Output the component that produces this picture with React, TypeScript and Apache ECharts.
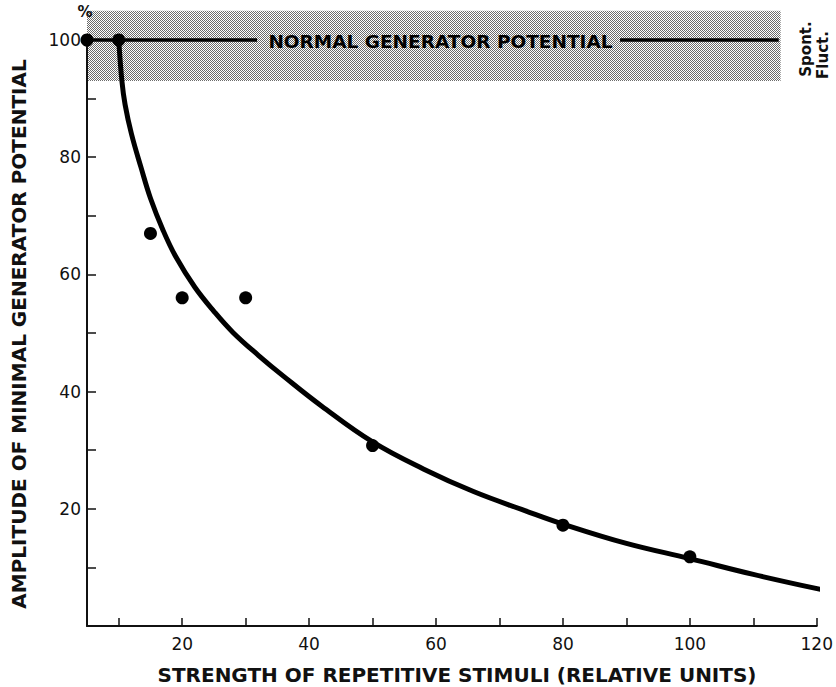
import React, { useEffect, useRef } from "react";
import * as echarts from "echarts";

// Measured points (strength of repetitive stimuli, % amplitude)
const stimulusStrength = [5, 10, 15, 20, 30, 50, 80, 100];
const amplitude = [100, 100, 67, 56, 56, 30.8, 17.2, 11.8];

// Hand-drawn fitted curve
const curveX = [10, 10.5, 11, 12, 13.5, 15, 17, 19, 22, 25, 28, 32, 36, 42, 50, 58, 66, 74, 80, 90, 100, 110, 121.2];
const curveY = [100, 93, 89, 84, 78.3, 73, 67.5, 63, 57.8, 53.7, 50.1, 46.2, 42.6, 37.5, 31.4, 26.8, 22.9, 19.7, 17.4, 14.1, 11.5, 8.8, 6.1];

// Axis ticks and labels
const xTickValues = [10, 20, 30, 40, 50, 60, 70, 80, 90, 100, 110, 120];
const xLabelValues = [20, 40, 60, 80, 100, 120];
const yTickValues = [10, 20, 30, 40, 50, 60, 70, 80, 90, 100];
const yLabelValues = [20, 40, 60, 80, 100];

// Normal generator potential level and spontaneous fluctuation band
const normalLevel = 100;
const bandY = [93, 105];
const bandX = [5, 114.3];
const normalLineLeft = [5, 31.8];
const normalLineRight = [89, 114];
const normalLabelX = 60.7;

const FONT = "DejaVu Sans";
const INK = "#111";

function makeStipple(): HTMLCanvasElement {
  const c = document.createElement("canvas");
  c.width = 4;
  c.height = 4;
  const ctx = c.getContext("2d")!;
  ctx.fillStyle = "#ffffff";
  ctx.fillRect(0, 0, 4, 4);
  ctx.fillStyle = "#6a6a6a";
  const dots = [[0, 0], [2, 0], [1, 1], [3, 1], [0, 2], [2, 2], [1, 3], [3, 3]];
  dots.forEach(([x, y]) => ctx.fillRect(x, y, 1, 1));
  return c;
}

export default function App() {
  const ref = useRef<HTMLDivElement>(null);

  useEffect(() => {
    if (!ref.current) return;
    const chart = echarts.init(ref.current, null, { renderer: "svg" });

    chart.setOption({
      animation: false,
      backgroundColor: "#ffffff",
      grid: { left: 87, right: 7, top: 40, bottom: 61 },
      xAxis: {
        type: "value",
        min: 5,
        max: 120,
        axisLine: { show: true, lineStyle: { color: INK, width: 2 } },
        axisTick: {
          show: true,
          inside: true,
          length: 8,
          customValues: xTickValues,
          lineStyle: { color: INK, width: 1.5 },
        },
        axisLabel: {
          customValues: xLabelValues,
          fontSize: 17,
          fontFamily: FONT,
          color: INK,
          margin: 9,
        },
        splitLine: { show: false },
      },
      yAxis: {
        type: "value",
        min: 0,
        max: 100,
        axisLine: { show: true, lineStyle: { color: INK, width: 2 } },
        axisTick: {
          show: true,
          inside: true,
          length: 9,
          customValues: yTickValues,
          lineStyle: { color: INK, width: 1.5 },
        },
        axisLabel: {
          customValues: yLabelValues,
          fontSize: 17,
          fontFamily: FONT,
          color: INK,
          margin: 6,
        },
        splitLine: { show: false },
      },
      series: [
        {
          type: "line",
          data: curveX.map((x, i) => [x, curveY[i]]),
          smooth: 0.4,
          showSymbol: false,
          clip: false,
          lineStyle: { color: "#000", width: 5 },
          z: 3,
        },
        {
          type: "scatter",
          data: stimulusStrength.map((x, i) => [x, amplitude[i]]),
          symbol: "circle",
          symbolSize: 13,
          itemStyle: { color: "#000", opacity: 1 },
          clip: false,
          z: 4,
        },
      ],
    });

    const px = (x: number, y: number) =>
      chart.convertToPixel({ gridIndex: 0 }, [x, y]) as number[];

    const b0 = px(bandX[0], bandY[1]);
    const b1 = px(bandX[1], bandY[0]);
    const l0 = px(normalLineLeft[0], normalLevel);
    const l1 = px(normalLineLeft[1], normalLevel);
    const r0 = px(normalLineRight[0], normalLevel);
    const r1 = px(normalLineRight[1], normalLevel);
    const t = px(normalLabelX, normalLevel);
    const top100 = px(5, 100);

    chart.setOption({
      graphic: [
        {
          type: "rect",
          z: -1,
          shape: { x: b0[0], y: b0[1], width: b1[0] - b0[0], height: b1[1] - b0[1] },
          style: { fill: { image: makeStipple(), repeat: "repeat" } as any },
        },
        {
          type: "line",
          z: 1,
          shape: { x1: l0[0], y1: l0[1], x2: l1[0], y2: l1[1] },
          style: { stroke: "#000", lineWidth: 3.5 },
        },
        {
          type: "line",
          z: 1,
          shape: { x1: r0[0], y1: r0[1], x2: r1[0], y2: r1[1] },
          style: { stroke: "#000", lineWidth: 3.5 },
        },
        {
          type: "text",
          z: 2,
          x: t[0],
          y: t[1] + 1,
          style: {
            text: "NORMAL GENERATOR POTENTIAL",
            fontFamily: FONT,
            fontWeight: "bold",
            fontSize: 18.5,
            fill: "#000",
            align: "center",
            verticalAlign: "middle",
          },
        },
        {
          type: "text",
          x: top100[0] - 2,
          y: top100[1] - 28,
          style: {
            text: "%",
            fontFamily: FONT,
            fontWeight: "bold",
            fontSize: 15,
            fill: INK,
            align: "center",
            verticalAlign: "middle",
          },
        },
        {
          type: "text",
          x: 806,
          y: 49,
          rotation: Math.PI / 2,
          style: {
            text: "Spont.",
            fontFamily: FONT,
            fontWeight: "bold",
            fontSize: 15,
            fill: INK,
            align: "center",
            verticalAlign: "middle",
          },
        },
        {
          type: "text",
          x: 823,
          y: 55,
          rotation: Math.PI / 2,
          style: {
            text: "Fluct.",
            fontFamily: FONT,
            fontWeight: "bold",
            fontSize: 15,
            fill: INK,
            align: "center",
            verticalAlign: "middle",
          },
        },
        {
          type: "text",
          x: 457,
          y: 675,
          style: {
            text: "STRENGTH OF REPETITIVE STIMULI (RELATIVE UNITS)",
            fontFamily: FONT,
            fontWeight: "bold",
            fontSize: 20,
            fill: INK,
            align: "center",
            verticalAlign: "middle",
          },
        },
        {
          type: "text",
          x: 19,
          y: 334,
          rotation: Math.PI / 2,
          style: {
            text: "AMPLITUDE OF MINIMAL GENERATOR POTENTIAL",
            fontFamily: FONT,
            fontWeight: "bold",
            fontSize: 20,
            fill: INK,
            align: "center",
            verticalAlign: "middle",
          },
        },
      ],
    });

    return () => chart.dispose();
  }, []);

  return (
    <div
      ref={ref}
      style={{ position: "fixed", left: 0, top: 0, width: 836, height: 687, background: "#fff" }}
    />
  );
}
